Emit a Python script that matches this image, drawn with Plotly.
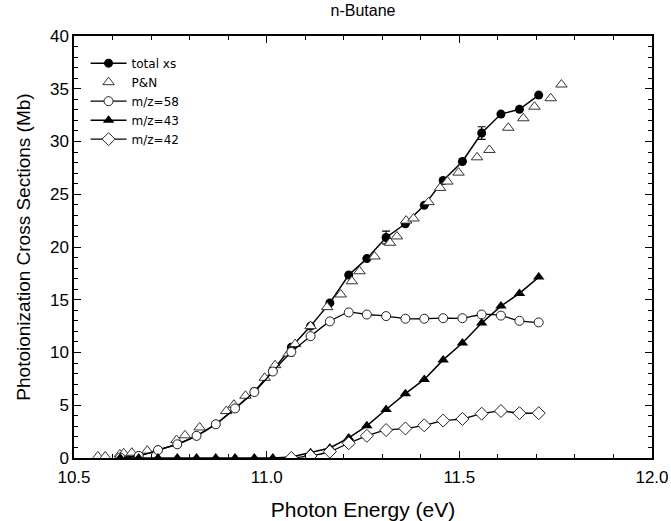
import plotly.graph_objects as go

# Photon energies (eV) of the measured points
energy = [10.62, 10.668, 10.718, 10.768, 10.818, 10.868, 10.918, 10.968, 11.016, 11.064,
          11.114, 11.164, 11.213, 11.26, 11.31, 11.36, 11.409, 11.458, 11.508, 11.558,
          11.608, 11.656, 11.706]

total_xs = [0.05, 0.2, 0.75, 1.3, 2.1, 3.2, 4.7, 6.3, 8.3, 10.5,
            12.5, 14.7, 17.35, 18.9, 20.9, 22.2, 23.95, 26.3, 28.1, 30.8,
            32.6, 33.05, 34.4]
total_err = [0, 0, 0, 0, 0, 0, 0, 0, 0, 0,
             0, 0, 0, 0, 0.6, 0, 0, 0, 0, 0.6,
             0, 0, 0]

mz58 = [0.05, 0.2, 0.75, 1.3, 2.1, 3.2, 4.7, 6.25, 8.2, 10.05,
        11.55, 12.95, 13.8, 13.6, 13.45, 13.2, 13.2, 13.25, 13.25, 13.6,
        13.5, 13.0, 12.85]

mz43 = [0.0, 0.0, 0.0, 0.0, 0.0, 0.0, 0.0, 0.0, 0.0, 0.1,
        0.5, 0.95, 1.9, 3.05, 4.6, 6.1, 7.45, 9.3, 10.9, 12.8,
        14.4, 15.6, 17.15]

energy42 = [11.064, 11.114, 11.164, 11.213, 11.26, 11.31, 11.36, 11.409, 11.458, 11.508,
            11.558, 11.608, 11.656, 11.706]
mz42 = [0.0, 0.2, 0.6, 1.4, 2.1, 2.65, 2.8, 3.1, 3.55, 3.7,
        4.2, 4.45, 4.25, 4.25]

pn_energy = [10.562, 10.581, 10.619, 10.629, 10.650, 10.690, 10.766, 10.788, 10.826, 10.895,
             10.915, 10.945, 10.995, 11.022, 11.057, 11.074, 11.114, 11.157, 11.192, 11.221,
             11.241, 11.28, 11.32, 11.338, 11.362, 11.381, 11.42, 11.45, 11.469, 11.498,
             11.546, 11.578, 11.627, 11.666, 11.695, 11.737, 11.765]
pn_xs = [0.15, 0.15, 0.35, 0.45, 0.5, 0.7, 1.7, 2.15, 2.9, 4.45,
         5.05, 5.9, 7.6, 8.8, 9.9, 10.8, 12.5, 14.3, 15.5, 16.75,
         17.7, 19.1, 20.4, 21.0, 22.5, 22.7, 24.25, 25.6, 26.2, 27.05,
         28.5, 29.2, 31.3, 32.2, 33.3, 34.1, 35.4]

x_tickvals = [10.5, 11.0, 11.5, 12.0]
x_ticktext = ["10.5", "11.0", "11.5", "12.0"]

FONT = "Liberation Sans, Arial, sans-serif"

fig = go.Figure()

fig.add_trace(go.Scatter(
    x=energy, y=total_xs, name="total xs", mode="lines+markers",
    line=dict(color="black", width=1.5),
    marker=dict(symbol="circle", size=9, color="black"),
    error_y=dict(type="data", array=total_err, visible=True, color="black", thickness=1.2, width=4),
))
fig.add_trace(go.Scatter(
    x=pn_energy, y=pn_xs, name="P&N", mode="markers",
    marker=dict(symbol="triangle-up", size=10, color="white",
                line=dict(color="#333333", width=1)),
))
fig.add_trace(go.Scatter(
    x=energy, y=mz58, name="m/z=58", mode="lines+markers",
    line=dict(color="black", width=1.3, shape="spline", smoothing=0.6),
    marker=dict(symbol="circle", size=9, color="white", line=dict(color="#222222", width=1)),
))
fig.add_trace(go.Scatter(
    x=energy, y=mz43, name="m/z=43", mode="lines+markers",
    line=dict(color="black", width=1.5),
    marker=dict(symbol="triangle-up", size=10, color="black"),
))
fig.add_trace(go.Scatter(
    x=energy42, y=mz42, name="m/z=42", mode="lines+markers",
    line=dict(color="black", width=1.3, shape="spline", smoothing=0.6),
    marker=dict(symbol="diamond", size=10, color="white", line=dict(color="#222222", width=1)),
))

axis_common = dict(
    showline=True, linecolor="black", linewidth=1.5, mirror="ticks",
    ticks="inside", ticklen=7, tickwidth=1.2, tickcolor="black",
    showgrid=False, zeroline=False, automargin=False,
    tickfont=dict(family=FONT, size=17, color="black"),
)

fig.update_xaxes(
    range=[10.5, 12.0], tickmode="array", tickvals=x_tickvals, ticktext=x_ticktext,
    ticklabelstandoff=3, ticklabeloverflow="allow",
    minor=dict(dtick=0.1, tick0=10.5, ticks="inside", ticklen=4, tickcolor="black", tickwidth=1),
    title=dict(text="Photon Energy (eV)", font=dict(family=FONT, size=21, color="black"), standoff=18),
    **axis_common,
)
fig.update_yaxes(
    range=[0, 40], dtick=5,
    minor=dict(dtick=1, ticks="inside", ticklen=4, tickcolor="black", tickwidth=1),
    title=dict(text="Photoionization Cross Sections (Mb)", font=dict(family=FONT, size=19, color="black"), standoff=14),
    **axis_common,
)

fig.update_layout(
    width=671, height=521,
    margin=dict(l=74, r=19, t=36, b=63),
    paper_bgcolor="white", plot_bgcolor="white",
    title=dict(text="n-Butane", x=0.5, xref="paper", y=0.99, yanchor="top",
               font=dict(family=FONT, size=16, color="black")),
    showlegend=True,
    legend=dict(x=0.02, y=0.97, xanchor="left", yanchor="top",
                bgcolor="rgba(0,0,0,0)", borderwidth=0, itemwidth=36,
                tracegroupgap=0,
                font=dict(family="DejaVu Sans, sans-serif", size=12, color="black")),
)

fig.write_html("out.html")
